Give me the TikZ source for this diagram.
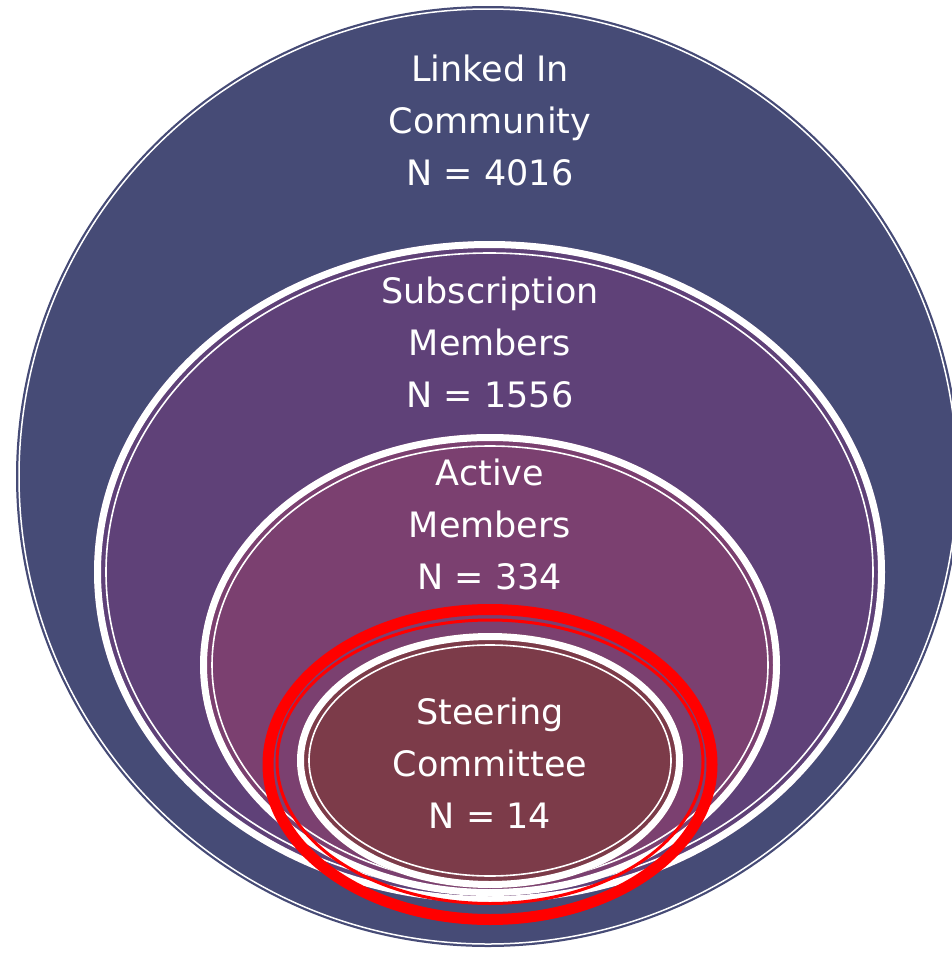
\documentclass[tikz,border=0pt]{standalone}
\usepackage{fontspec}
\setmainfont{DejaVu Sans}
\definecolor{linkedin}{RGB}{70,75,118}
\definecolor{subscr}{RGB}{95,65,120}
\definecolor{active}{RGB}{123,64,112}
\definecolor{steering}{RGB}{124,59,73}
\tikzset{
  ringtext/.style={text=white, align=center, font=\fontsize{35}{52}\selectfont},
}
\begin{document}
\begin{tikzpicture}[x=1pt, y=-1pt]
  \useasboundingbox (0,0) rectangle (951,953);
  % outer community
  \fill[linkedin] (488,476.5) ellipse [x radius=472, y radius=470.5];
  \draw[white, line width=1.5] (488,476.5) ellipse [x radius=469, y radius=467.5];
  % nested rings
  \foreach \cx/\cy/\rx/\ry/\col in {489.5/572/395.5/331/subscr, 490/665/290/231/active, 490/760.5/193/127.5/steering}{
      \fill[\col] (\cx,\cy) ellipse [x radius=\rx, y radius=\ry];
      \draw[white, line width=7] (\cx,\cy) ellipse [x radius=\rx-3.5, y radius=\ry-3.5];
      \draw[white, line width=1.6] (\cx,\cy) ellipse [x radius=\rx-12, y radius=\ry-12];
  }
  % red highlight
  \draw[red, line width=11] (490,764.5) ellipse [x radius=222, y radius=155];
  \draw[red, line width=3] (490,761.75) ellipse [x radius=213, y radius=141.75];

  \node[ringtext] (community) at (490,120) {Linked In\\Community\\N = 4016};
  \node[ringtext] (subscription) at (490,342) {Subscription\\Members\\N = 1556};
  \node[ringtext] (activemem) at (490,524) {Active\\Members\\N = 334};
  \node[ringtext] (committee) at (490,763) {Steering\\Committee\\N = 14};
\end{tikzpicture}
\end{document}
